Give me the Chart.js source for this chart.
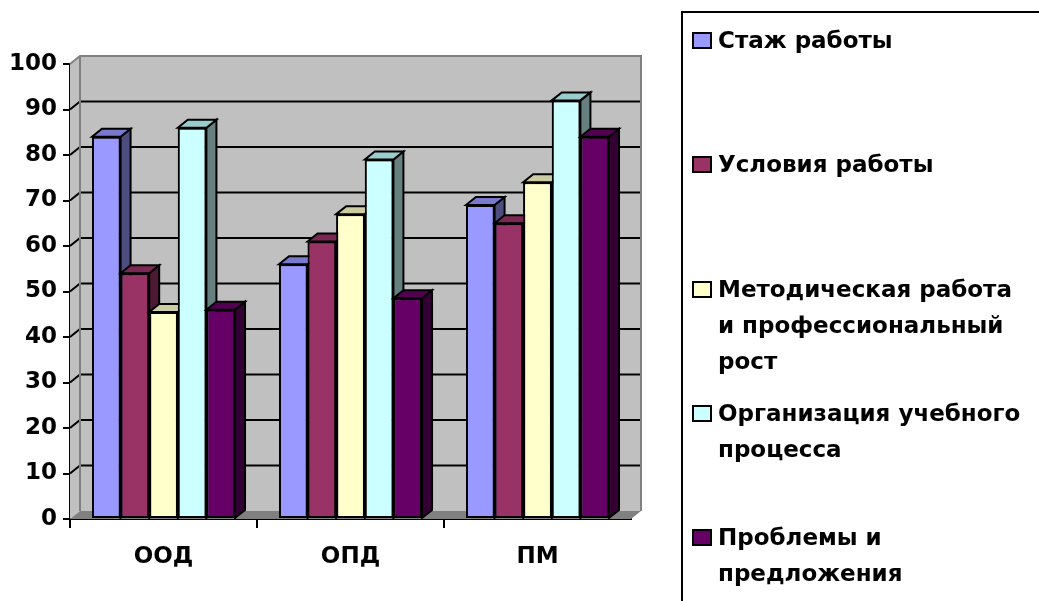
<!DOCTYPE html>
<html>
<head>
<meta charset="utf-8">
<script src="https://cdn.jsdelivr.net/npm/chart.js@4"></script>
<style>
    html, body { margin: 0; padding: 0; background: #fff; }
    #wrap { position: relative; width: 1039px; height: 601px; overflow: hidden; }
    #chart { position: absolute; left: 0; top: 0; }
    #legend {
        position: absolute; left: 681px; top: 11px; width: 420px; height: 640px;
        border: 2px solid #000; box-sizing: border-box;
        font-family: 'DejaVu Sans', sans-serif; font-weight: bold; font-size: 23px; color: #000;
    }
    .item { position: absolute; left: 0; }
    .box { position: absolute; left: 9px; top: 10px; width: 20px; height: 17px; border: 2px solid #000; box-sizing: border-box; }
    .label { position: absolute; left: 35px; top: 0; line-height: 36px; white-space: pre; }
</style>
</head>
<body>
<div id="wrap">
    <canvas id="chart" width="1039" height="601"></canvas>
    <div id="legend"></div>
</div>
<script>
// Данные
const categories = ['ООД', 'ОПД', 'ПМ'];
const seriesNames = [
    'Стаж работы',
    'Условия работы',
    'Методическая работа\nи профессиональный\nрост',
    'Организация учебного\nпроцесса',
    'Проблемы и\nпредложения'
];
const stazh = [84, 56, 69];
const usloviya = [54, 61, 65];
const metodRabota = [45.5, 67, 74];
const organizaciya = [86, 79, 92];
const problemy = [46, 48.5, 84];
const yTicks = [0, 10, 20, 30, 40, 50, 60, 70, 80, 90, 100];

// Цвета (передняя грань, бок, верх)
const frontColors = ['#9999FF', '#993366', '#FFFFCC', '#CCFFFF', '#660066'];
const sideColors = ['#4D4D80', '#4D1A33', '#808066', '#668080', '#330033'];
const topColors = ['#7A7ACC', '#7A2952', '#CCCCA3', '#99CCCC', '#520052'];

const DX = 10, DY = 8;
const tickFont = { family: 'DejaVu Sans', weight: 'bold', size: 23 };

function poly(ctx, pts, fill) {
    ctx.beginPath();
    ctx.moveTo(pts[0][0], pts[0][1]);
    for (let k = 1; k < pts.length; k++) ctx.lineTo(pts[k][0], pts[k][1]);
    ctx.closePath();
    if (fill) { ctx.fillStyle = fill; ctx.fill(); }
    ctx.stroke();
}

// Псевдо-3D: стены, пол и грани столбцов
const threeD = {
    id: 'threeD',
    beforeDatasetsDraw(chart) {
        const { ctx, chartArea: a, scales: { y } } = chart;
        ctx.save();
        ctx.lineWidth = 2;
        ctx.strokeStyle = 'rgba(0,0,0,0)';
        // задняя стена
        ctx.fillStyle = '#C0C0C0';
        ctx.fillRect(a.left + DX, a.top - DY, a.width, a.height);
        // левая стена
        poly(ctx, [[a.left, a.top], [a.left + DX, a.top - DY], [a.left + DX, a.bottom - DY], [a.left, a.bottom]], '#C0C0C0');
        // пол
        poly(ctx, [[a.left, a.bottom], [a.right, a.bottom], [a.right + DX, a.bottom - DY], [a.left + DX, a.bottom - DY]], '#808080');
        // линии сетки на стенах
        ctx.strokeStyle = '#000';
        y.ticks.forEach(t => {
            if (t.value <= y.min || t.value >= y.max) return;
            const py = y.getPixelForValue(t.value);
            ctx.beginPath();
            ctx.moveTo(a.left, py);
            ctx.lineTo(a.left + DX, py - DY);
            ctx.lineTo(a.right + DX, py - DY);
            ctx.stroke();
        });
        // края стен
        ctx.strokeStyle = '#808080';
        ctx.beginPath();
        ctx.moveTo(a.left, a.top);
        ctx.lineTo(a.left + DX, a.top - DY);
        ctx.lineTo(a.right + DX, a.top - DY);
        ctx.lineTo(a.right + DX, a.bottom - DY);
        ctx.moveTo(a.left + DX, a.top - DY);
        ctx.lineTo(a.left + DX, a.bottom - DY);
        ctx.stroke();
        ctx.restore();
    },
    afterDatasetsDraw(chart) {
        const ctx = chart.ctx;
        ctx.save();
        ctx.lineWidth = 2;
        ctx.strokeStyle = '#000';
        ctx.lineJoin = 'miter';
        chart.data.datasets.forEach((ds, i) => {
            const meta = chart.getDatasetMeta(i);
            meta.data.forEach(bar => {
                const { x, y, base, width } = bar.getProps(['x', 'y', 'base', 'width'], true);
                const l = x - width / 2, r = x + width / 2;
                poly(ctx, [[r, y], [r + DX, y - DY], [r + DX, base - DY], [r, base]], sideColors[i]);
                poly(ctx, [[l, y], [l + DX, y - DY], [r + DX, y - DY], [r, y]], topColors[i]);
                bar.draw(ctx);
            });
        });
        ctx.restore();
    }
};

const seriesValues = [stazh, usloviya, metodRabota, organizaciya, problemy];

new Chart(document.getElementById('chart').getContext('2d'), {
    type: 'bar',
    data: {
        labels: categories,
        datasets: seriesValues.map((vals, i) => ({
            label: seriesNames[i],
            data: vals,
            backgroundColor: frontColors[i],
            borderColor: '#000',
            borderWidth: 2,
            borderSkipped: false,
            categoryPercentage: 0.765,
            barPercentage: 1
        }))
    },
    options: {
        responsive: false,
        animation: false,
        events: [],
        layout: { padding: { top: 64, right: 408, left: 0, bottom: 0 } },
        plugins: {
            legend: { display: false },
            tooltip: { enabled: false }
        },
        scales: {
            x: {
                offset: true,
                grid: {
                    drawOnChartArea: false,
                    offset: true,
                    tickLength: 9,
                    lineWidth: 2,
                    color: c => c.type === 'tick' ? '#000' : 'rgba(0,0,0,0)'
                },
                border: { display: true, color: '#000', width: 2 },
                ticks: { color: '#000', font: tickFont, padding: 15 },
                afterFit: s => { s.height = 82; }
            },
            y: {
                min: 0,
                max: 100,
                afterBuildTicks: s => { s.ticks = yTicks.map(v => ({ value: v })); },
                ticks: { color: '#000', font: tickFont, padding: 6 },
                grid: { drawOnChartArea: false, tickLength: 7, lineWidth: 2, color: '#000' },
                border: { display: true, color: '#000', width: 2 },
                afterFit: s => { s.width = 70; }
            }
        }
    },
    plugins: [threeD]
});

// Легенда
const legendEl = document.getElementById('legend');
seriesNames.forEach((name, i) => {
    const cy = 40 + i * 124.3;
    const item = document.createElement('div');
    item.className = 'item';
    item.style.top = (cy - 18 - 13) + 'px';
    item.innerHTML = '<div class="box" style="background:' + frontColors[i] + '"></div>' +
        '<div class="label"></div>';
    item.querySelector('.label').textContent = name;
    legendEl.appendChild(item);
});
</script>
</body>
</html>
